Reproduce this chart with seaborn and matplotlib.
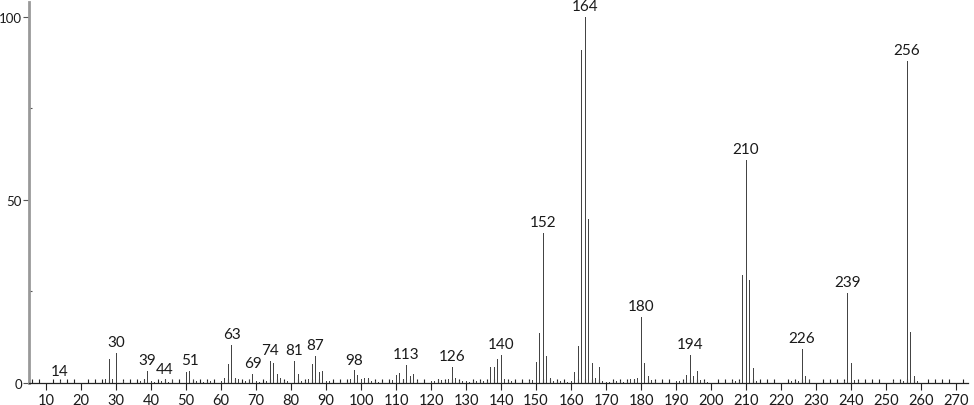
import matplotlib
matplotlib.use("Agg")
import matplotlib.pyplot as plt
import seaborn as sns
import pandas as pd
from matplotlib.ticker import MultipleLocator

mz = [14, 27, 28, 29, 30, 32, 37, 38, 39, 40, 41, 43, 44, 45, 46,
      50, 51, 52, 53, 55, 56, 57, 60, 61, 62, 63, 64, 65, 67, 68, 69, 70, 71, 73,
      74, 75, 76, 77, 78, 79, 81, 82, 83, 84, 85, 86, 87, 88, 89, 90, 91,
      94, 96, 97, 98, 99, 100, 101, 102, 103, 104, 105, 106,
      109, 110, 111, 112, 113, 114, 115, 116,
      120, 121, 122, 123, 124, 125, 126, 127, 128, 129, 130, 131, 132, 133, 134, 135, 136,
      137, 138, 139, 140, 141, 142, 143,
      148, 149, 150, 151, 152, 153, 154, 155, 156, 157, 158, 159, 160, 161, 162, 163, 164,
      165, 166, 167, 168, 169, 170, 171, 172, 173, 174, 175, 176, 177, 178, 179, 180, 181,
      182, 183, 184, 190, 191, 192, 193, 194, 195, 196, 197, 198, 199,
      206, 207, 208, 209, 210, 211, 212, 213, 223, 224, 225, 226, 227, 228,
      238, 239, 240, 241, 242, 252, 254, 255, 256, 257, 258, 259]
intensity = [0.5, 1.0, 6.6, 1.0, 8.2, 0.5, 0.5, 1.0, 3.3, 0.5, 0.3, 0.5, 1.0, 0.3, 0.8,
             3.0, 3.3, 0.8, 0.5, 0.3, 0.5, 0.5, 0.5, 1.5, 5.3, 10.4, 1.5, 1.2, 0.5, 0.8, 2.5, 0.5, 0.3, 0.5,
             6.0, 5.5, 2.5, 1.5, 0.5, 0.5, 6.0, 2.5, 0.5, 0.5, 1.0, 5.2, 7.5, 3.0, 3.3, 0.5, 0.5,
             0.3, 0.3, 1.0, 3.5, 2.3, 1.0, 1.3, 1.5, 0.5, 0.5, 0.3, 0.3,
             0.8, 2.3, 2.8, 1.0, 5.0, 2.0, 2.5, 0.5,
             0.5, 0.5, 1.0, 0.8, 0.5, 1.0, 4.5, 1.5, 0.5, 0.5, 0.5, 0.3, 0.5, 0.5, 0.5, 0.5, 0.5,
             4.5, 4.5, 6.5, 7.7, 1.0, 0.5, 0.5,
             0.5, 0.8, 5.8, 13.7, 41.0, 7.5, 1.5, 0.5, 0.5, 0.5, 0.3, 0.3, 0.5, 3.0, 10.1, 91.0, 100.0,
             44.7, 5.5, 1.3, 4.5, 0.5, 0.3, 0.3, 0.5, 0.5, 0.5, 0.3, 0.5, 1.0, 1.0, 1.5, 18.0, 5.5,
             2.0, 0.8, 0.5, 0.5, 0.5, 0.5, 2.3, 7.7, 1.8, 3.3, 0.8, 0.5, 0.3,
             0.5, 0.5, 0.5, 29.6, 61.0, 28.2, 4.0, 0.5, 0.5, 0.5, 0.5, 9.3, 1.8, 0.8,
             0.5, 24.7, 5.5, 0.8, 0.5, 0.5, 0.5, 0.5, 88.0, 14.0, 1.8, 0.5]
labeled = [14, 30, 39, 44, 51, 63, 69, 74, 81, 87, 98, 113, 126, 140, 152, 164,
           180, 194, 210, 226, 239, 256]
x_ticks = list(range(10, 271, 10))
y_ticks = [0, 50, 100]

df = pd.DataFrame({"mz": mz, "intensity": intensity})

sns.set_style("ticks")
plt.rcParams["font.family"] = ["Lato", "DejaVu Sans"]

fig = plt.figure(figsize=(9.74, 4.06), dpi=100)
ax = fig.add_axes([29 / 974, 22 / 406, (968 - 29) / 974, (384 - 3) / 406])

sns.barplot(data=df, x="mz", y="intensity", native_scale=True, width=0.28,
            color="#444444", saturation=1, linewidth=0, ax=ax)
for p in ax.patches:
    p.set_snap(True)
    p.set_antialiased(False)

lookup = dict(zip(mz, intensity))
for m in labeled:
    ax.text(m, lookup[m] + 1.0, str(m), ha="center", va="bottom",
            fontsize=11, color="#1a1a1a")

ax.set_xlim(5.14, 273.4)
ax.set_ylim(0, 104)
ax.set_xticks(x_ticks)
ax.set_xticklabels([str(t) for t in x_ticks])
ax.xaxis.set_minor_locator(MultipleLocator(2))
ax.set_yticks(y_ticks)
ax.set_yticklabels([str(t) for t in y_ticks])
ax.yaxis.set_minor_locator(MultipleLocator(25))
ax.tick_params(axis="x", which="major", direction="out", length=5, width=0.8,
               labelsize=10.5, pad=2, color="#222222", labelcolor="#1a1a1a")
ax.tick_params(axis="x", which="minor", direction="in", length=3, width=0.8, color="#222222")
ax.tick_params(axis="y", which="major", direction="out", length=4, width=0.8,
               labelsize=9.5, pad=1, color="#555555", labelcolor="#1a1a1a")
ax.tick_params(axis="y", which="minor", direction="in", length=2, width=0.8, color="#555555")
ax.set_xlabel("")
ax.set_ylabel("")
for s in ["top", "right"]:
    ax.spines[s].set_visible(False)
ax.spines["left"].set_color("#999999")
ax.spines["left"].set_linewidth(2)
ax.spines["bottom"].set_color("#222222")
ax.spines["bottom"].set_linewidth(0.9)

fig.savefig("out.png", dpi=100)
